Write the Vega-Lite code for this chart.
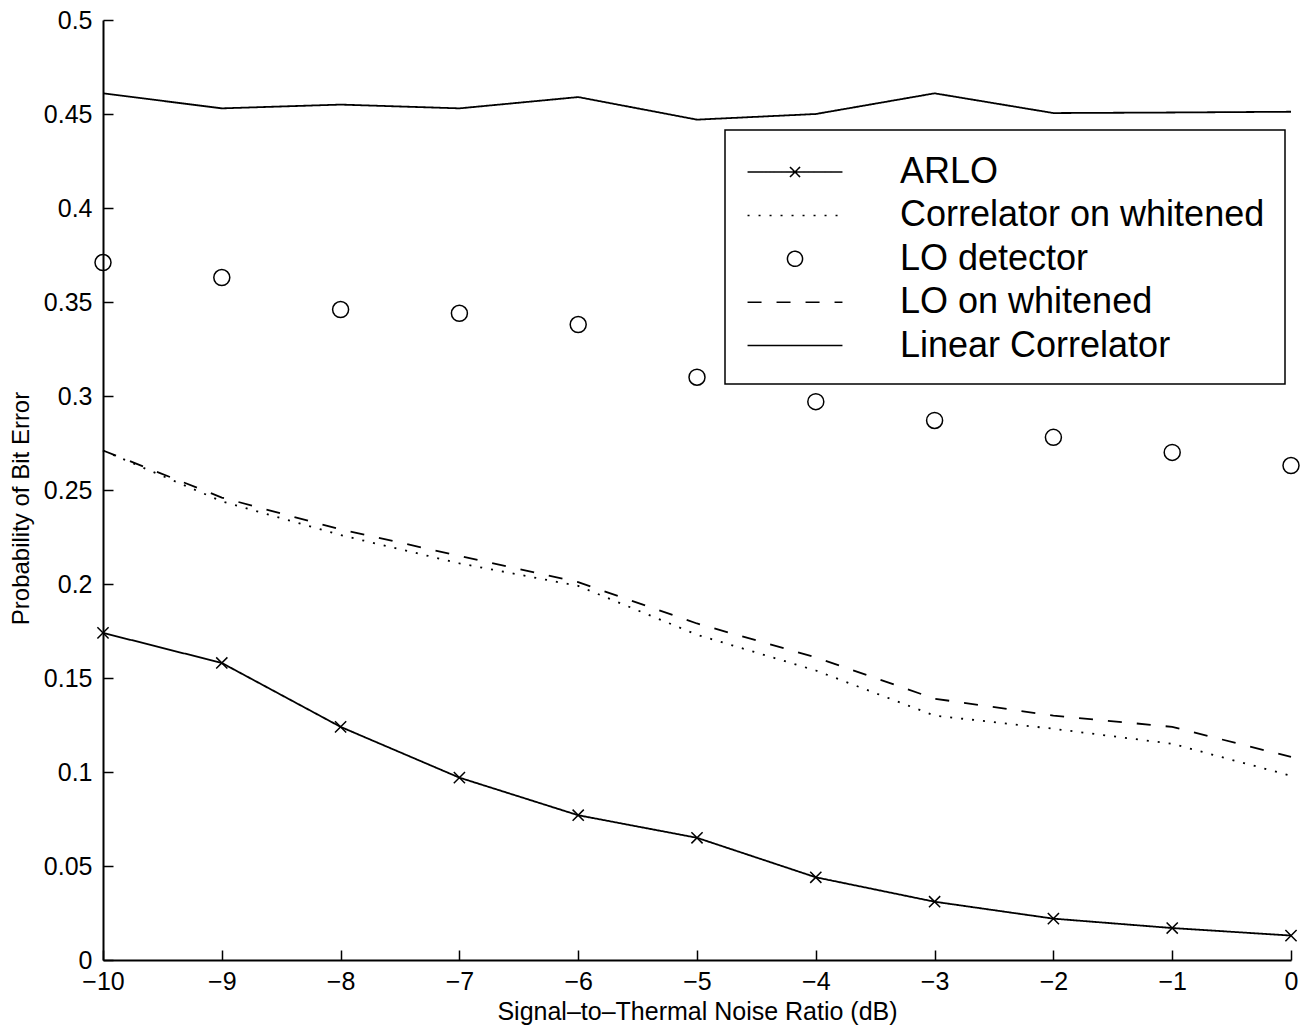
{
  "$schema": "https://vega.github.io/schema/vega-lite/v6.json",
  "width": 1188,
  "height": 940,
  "autosize": {"type": "none"},
  "padding": {"left": 103, "top": 20, "right": 15, "bottom": 72},
  "background": "white",
  "config": {
    "view": {"stroke": null},
    "font": "Liberation Sans",
    "axis": {
      "grid": false,
      "domainColor": "black",
      "domainWidth": 2,
      "tickColor": "black",
      "tickWidth": 1.5,
      "tickSize": -10,
      "labelColor": "black",
      "labelFont": "Liberation Sans",
      "labelFontSize": 25,
      "labelFlush": false,
      "titleColor": "black",
      "titleFont": "Liberation Sans",
      "titleFontWeight": "normal"
    }
  },
  "data": {
    "values": [
      {"snr": -10, "pbe": 0.174, "series": "ARLO"},
      {"snr": -9, "pbe": 0.158, "series": "ARLO"},
      {"snr": -8, "pbe": 0.124, "series": "ARLO"},
      {"snr": -7, "pbe": 0.097, "series": "ARLO"},
      {"snr": -6, "pbe": 0.077, "series": "ARLO"},
      {"snr": -5, "pbe": 0.065, "series": "ARLO"},
      {"snr": -4, "pbe": 0.044, "series": "ARLO"},
      {"snr": -3, "pbe": 0.031, "series": "ARLO"},
      {"snr": -2, "pbe": 0.022, "series": "ARLO"},
      {"snr": -1, "pbe": 0.017, "series": "ARLO"},
      {"snr": 0, "pbe": 0.013, "series": "ARLO"},
      {"snr": -10, "pbe": 0.271, "series": "Correlator on whitened"},
      {"snr": -9, "pbe": 0.244, "series": "Correlator on whitened"},
      {"snr": -8, "pbe": 0.226, "series": "Correlator on whitened"},
      {"snr": -7, "pbe": 0.211, "series": "Correlator on whitened"},
      {"snr": -6, "pbe": 0.199, "series": "Correlator on whitened"},
      {"snr": -5, "pbe": 0.173, "series": "Correlator on whitened"},
      {"snr": -4, "pbe": 0.154, "series": "Correlator on whitened"},
      {"snr": -3, "pbe": 0.130, "series": "Correlator on whitened"},
      {"snr": -2, "pbe": 0.123, "series": "Correlator on whitened"},
      {"snr": -1, "pbe": 0.115, "series": "Correlator on whitened"},
      {"snr": 0, "pbe": 0.098, "series": "Correlator on whitened"},
      {"snr": -10, "pbe": 0.371, "series": "LO detector"},
      {"snr": -9, "pbe": 0.363, "series": "LO detector"},
      {"snr": -8, "pbe": 0.346, "series": "LO detector"},
      {"snr": -7, "pbe": 0.344, "series": "LO detector"},
      {"snr": -6, "pbe": 0.338, "series": "LO detector"},
      {"snr": -5, "pbe": 0.310, "series": "LO detector"},
      {"snr": -4, "pbe": 0.297, "series": "LO detector"},
      {"snr": -3, "pbe": 0.287, "series": "LO detector"},
      {"snr": -2, "pbe": 0.278, "series": "LO detector"},
      {"snr": -1, "pbe": 0.270, "series": "LO detector"},
      {"snr": 0, "pbe": 0.263, "series": "LO detector"},
      {"snr": -10, "pbe": 0.271, "series": "LO on whitened"},
      {"snr": -9, "pbe": 0.246, "series": "LO on whitened"},
      {"snr": -8, "pbe": 0.229, "series": "LO on whitened"},
      {"snr": -7, "pbe": 0.215, "series": "LO on whitened"},
      {"snr": -6, "pbe": 0.201, "series": "LO on whitened"},
      {"snr": -5, "pbe": 0.179, "series": "LO on whitened"},
      {"snr": -4, "pbe": 0.161, "series": "LO on whitened"},
      {"snr": -3, "pbe": 0.139, "series": "LO on whitened"},
      {"snr": -2, "pbe": 0.130, "series": "LO on whitened"},
      {"snr": -1, "pbe": 0.124, "series": "LO on whitened"},
      {"snr": 0, "pbe": 0.108, "series": "LO on whitened"},
      {"snr": -10, "pbe": 0.461, "series": "Linear Correlator"},
      {"snr": -9, "pbe": 0.453, "series": "Linear Correlator"},
      {"snr": -8, "pbe": 0.455, "series": "Linear Correlator"},
      {"snr": -7, "pbe": 0.453, "series": "Linear Correlator"},
      {"snr": -6, "pbe": 0.459, "series": "Linear Correlator"},
      {"snr": -5, "pbe": 0.447, "series": "Linear Correlator"},
      {"snr": -4, "pbe": 0.450, "series": "Linear Correlator"},
      {"snr": -3, "pbe": 0.461, "series": "Linear Correlator"},
      {"snr": -2, "pbe": 0.4505, "series": "Linear Correlator"},
      {"snr": -1, "pbe": 0.4508, "series": "Linear Correlator"},
      {"snr": 0, "pbe": 0.4512, "series": "Linear Correlator"}
    ]
  },
  "encoding": {
    "x": {
      "field": "snr",
      "type": "quantitative",
      "scale": {"domain": [-10, 0], "nice": false, "zero": false},
      "axis": {
        "title": "Signal–to–Thermal Noise Ratio (dB)",
        "values": [-10, -9, -8, -7, -6, -5, -4, -3, -2, -1, 0],
        "format": "d",
        "labelPadding": 19,
        "titleFontSize": 25,
        "titlePadding": 5
      }
    },
    "y": {
      "field": "pbe",
      "type": "quantitative",
      "scale": {"domain": [0, 0.5], "nice": false},
      "axis": {
        "title": "Probability of Bit Error",
        "values": [0, 0.05, 0.1, 0.15, 0.2, 0.25, 0.3, 0.35, 0.4, 0.45, 0.5],
        "format": "~g",
        "labelPadding": 21,
        "titleFontSize": 24,
        "titlePadding": 10,
        "titleY": 488
      }
    }
  },
  "layer": [
    {
      "transform": [{"filter": "datum.series !== 'LO detector'"}],
      "mark": {"type": "line", "color": "black", "strokeWidth": 1.8},
      "encoding": {
        "strokeDash": {
          "field": "series",
          "type": "nominal",
          "scale": {
            "domain": ["ARLO", "Correlator on whitened", "LO detector", "LO on whitened", "Linear Correlator"],
            "range": [[1, 0], [2, 9], [1, 0], [14, 15], [1, 0]]
          },
          "legend": {
            "title": null,
            "orient": "none",
            "legendX": 622,
            "legendY": 110,
            "direction": "vertical",
            "strokeColor": "black",
            "fillColor": "white",
            "padding": 20,
            "symbolType": "stroke",
            "symbolSize": 1764,
            "symbolStrokeWidth": 1.5,
            "symbolStrokeColor": "black",
            "symbolOffset": 28,
            "labelOffset": 83,
            "labelFont": "Liberation Sans",
            "labelFontSize": 36,
            "labelColor": "black",
            "labelLimit": 1000,
            "rowPadding": 3.4,
            "encode": {
              "legend": {"update": {"strokeWidth": {"value": 1.5}}},
              "symbols": {
                "update": {
                  "shape": {"signal": "datum.value === 'ARLO' ? 'M-2.26,0L2.26,0M-0.24,-0.24L0.24,0.24M-0.24,0.24L0.24,-0.24' : datum.value === 'LO detector' ? 'M0.36,0A0.36,0.36,0,1,1,-0.36,0A0.36,0.36,0,1,1,0.36,0Z' : 'M-2.26,0L2.26,0'"},
                  "fill": {"value": "transparent"},
                  "stroke": {"value": "black"}
                }
              }
            }
          }
        }
      }
    },
    {
      "transform": [{"filter": "datum.series === 'ARLO' || datum.series === 'LO detector'"}],
      "mark": {"type": "point", "filled": false, "color": "black", "strokeWidth": 1.5, "size": 256, "opacity": 1},
      "encoding": {
        "shape": {
          "field": "series",
          "type": "nominal",
          "scale": {
            "domain": ["ARLO", "LO detector"],
            "range": ["M-0.7,-0.7L0.7,0.7M-0.7,0.7L0.7,-0.7", "circle"]
          },
          "legend": null
        }
      }
    }
  ]
}
